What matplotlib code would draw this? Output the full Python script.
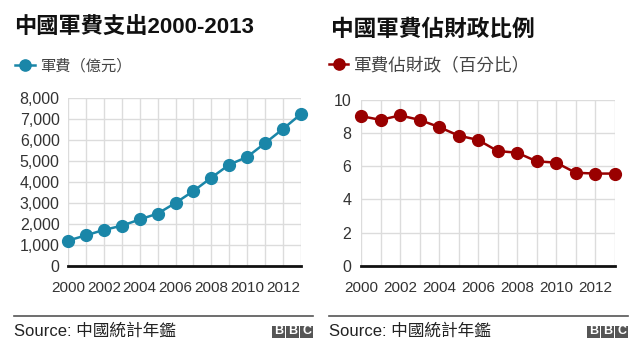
import matplotlib
matplotlib.use("Agg")
import matplotlib.pyplot as plt
from matplotlib.ticker import FuncFormatter, MultipleLocator
from matplotlib.patches import Rectangle

plt.rcParams['font.family'] = ['Liberation Sans', 'Noto Sans CJK TC', 'DejaVu Sans']

years = list(range(2000, 2014))
spending = [1200, 1450, 1710, 1910, 2210, 2490, 3000, 3570, 4210, 4830, 5200, 5860, 6540, 7250]
share = [9.03, 8.8, 9.07, 8.8, 8.37, 7.85, 7.59, 6.92, 6.82, 6.3, 6.22, 5.61, 5.56, 5.56]
xticks = [2000, 2002, 2004, 2006, 2008, 2010, 2012]

title_left = "中國軍費支出2000-2013"
title_right = "中國軍費佔財政比例"
legend_left = "軍費（億元）"
legend_right = "軍費佔財政（百分比）"
source = "Source: 中國統計年鑑"

teal = "#1a86a8"
red = "#990000"
grid_c = "#dcdcdc"
tick_c = "#333333"

W, H = 640, 355
fig = plt.figure(figsize=(W / 100, H / 100), dpi=100)


def px(x0, y0, x1, y1):
    return [x0 / W, 1 - y1 / H, (x1 - x0) / W, (y1 - y0) / H]


def style(ax, ylim, ystep, ypad):
    ax.set_xlim(2000, 2013)
    ax.set_ylim(0, ylim)
    ax.yaxis.set_major_locator(MultipleLocator(ystep))
    ax.set_xticks(xticks)
    ax.set_xticks(years, minor=True)
    ax.grid(True, which='both', axis='x', color=grid_c, lw=1)
    ax.grid(True, which='major', axis='y', color=grid_c, lw=1)
    ax.set_axisbelow(True)
    for s in ['top', 'right', 'left']:
        ax.spines[s].set_visible(False)
    ax.spines['bottom'].set_color('#111111')
    ax.spines['bottom'].set_linewidth(2)
    ax.spines['bottom'].set_zorder(1.5)
    ax.tick_params(which='both', length=0, colors=tick_c)
    ax.tick_params(axis='x', pad=11, labelsize=11)
    ax.tick_params(axis='y', pad=ypad, labelsize=11.5)


# Left chart
ax1 = fig.add_axes(px(68, 98.3, 301, 265.7))
style(ax1, 8000, 1000, 6)
ax1.yaxis.set_major_formatter(FuncFormatter(lambda v, p: f"{int(v):,}"))
l1, = ax1.plot(years, spending, color=teal, lw=1.8, marker='o', ms=8.5,
               mec=teal, mfc=teal, clip_on=False, zorder=3)

# Right chart
ax2 = fig.add_axes(px(361, 100, 614.7, 265.7))
style(ax2, 10, 2, 7)
l2, = ax2.plot(years, share, color=red, lw=1.8, marker='o', ms=8.5,
               mec=red, mfc=red, clip_on=False, zorder=3)

# Titles
fig.text(14 / W, 1 - 28.5 / H, title_left, fontsize=16, fontweight='bold',
         color='#111111', ha='left', va='center')
fig.text(331 / W, 1 - 29.5 / H, title_right, fontsize=16.3, fontweight='bold',
         color='#111111', ha='left', va='center')

# Legends
fig.legend([l1], [legend_left], loc='center left',
           bbox_to_anchor=(15 / W, 1 - 66 / H), bbox_transform=fig.transFigure,
           frameon=False, fontsize=11, handlelength=1.3, handletextpad=0.35,
           borderpad=0, borderaxespad=0, markerscale=0.95, labelcolor='#444444')
fig.legend([l2], [legend_right], loc='center left',
           bbox_to_anchor=(329 / W, 1 - 66 / H), bbox_transform=fig.transFigure,
           frameon=False, fontsize=12.7, handlelength=1.1, handletextpad=0.3,
           borderpad=0, borderaxespad=0, markerscale=0.95, labelcolor='#444444')

# Footers
for (x0, x1) in [(14, 313), (329, 628)]:
    fig.add_artist(plt.Line2D([x0 / W, x1 / W], [1 - 316 / H, 1 - 316 / H],
                              transform=fig.transFigure, color='#555555', lw=1.2))
    fig.text(x0 / W, 1 - 331 / H, source, fontsize=12, color='#222222',
             ha='left', va='center')
    bw, gap = 12.7, 1.5
    bx = x1 - 3 * bw - 2 * gap
    for i, ch in enumerate("BBC"):
        xx = bx + i * (bw + gap)
        fig.add_artist(Rectangle((xx / W, 1 - 337.5 / H), bw / W, 12 / H,
                                 transform=fig.transFigure, color='#555555', lw=0))
        fig.text((xx + bw / 2) / W, 1 - 331.5 / H, ch, fontsize=9,
                 fontweight='bold', color='white', ha='center', va='center')

fig.savefig("out.png", dpi=100)
